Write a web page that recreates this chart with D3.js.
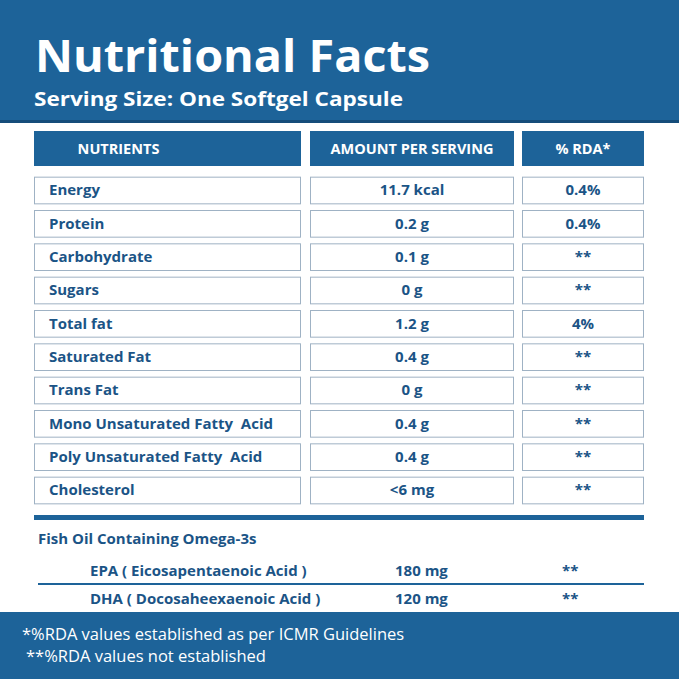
<!DOCTYPE html>
<html><head><meta charset="utf-8">
<script src="https://cdn.jsdelivr.net/npm/d3@7"></script>
<style>body{margin:0;background:#fff}svg{display:block;font-family:"Open Sans",Lato,sans-serif}text{white-space:pre}</style>
</head><body><div id="chart"></div>
<script>
// table content
const headers = ["NUTRIENTS", "AMOUNT PER SERVING", "% RDA*"];
const nutrients = ["Energy", "Protein", "Carbohydrate", "Sugars", "Total fat", "Saturated Fat", "Trans Fat", "Mono Unsaturated Fatty  Acid", "Poly Unsaturated Fatty  Acid", "Cholesterol"];
const amounts = ["11.7 kcal", "0.2 g", "0.1 g", "0 g", "1.2 g", "0.4 g", "0 g", "0.4 g", "0.4 g", "<6 mg"];
const rda = ["0.4%", "0.4%", "**", "**", "4%", "**", "**", "**", "**", "**"];
const omegaNames = ["EPA ( Eicosapentaenoic Acid )", "DHA ( Docosaheexaenoic Acid )"];
const omegaAmounts = ["180 mg", "120 mg"];
const omegaRda = ["**", "**"];

const W = 679, H = 679;
const blue = "#1d6399", ink = "#1b5486", border = "#9fb2c4";
const svg = d3.select("#chart").append("svg").attr("width", W).attr("height", H);

// header band
svg.append("rect").attr("width", W).attr("height", 122).attr("fill", blue);
svg.append("rect").attr("y", 120).attr("width", W).attr("height", 3).attr("fill", "#154d7a");
svg.append("text").attr("x", 35).attr("y", 72).attr("fill", "#fff")
  .attr("font-size", 44).attr("font-weight", 700).attr("textLength", 395).attr("lengthAdjust", "spacingAndGlyphs")
  .text("Nutritional Facts");
svg.append("text").attr("x", 34).attr("y", 106).attr("fill", "#fff")
  .attr("font-size", 19).attr("font-weight", 700).attr("textLength", 369).attr("lengthAdjust", "spacingAndGlyphs")
  .text("Serving Size: One Softgel Capsule");

// columns
const cols = [{x: 34, w: 267, anchor: "start", pad: 15}, {x: 310, w: 204, anchor: "middle"}, {x: 522, w: 122, anchor: "middle"}];
function tx(c) { return c.anchor === "start" ? c.x + c.pad : c.x + c.w / 2; }

// column header cells
cols.forEach((c, i) => {
  svg.append("rect").attr("x", c.x).attr("y", 131).attr("width", c.w).attr("height", 35).attr("fill", blue);
  svg.append("text").attr("x", i === 0 ? c.x + c.w / 2 - 49 : c.x + c.w / 2).attr("y", 154)
    .attr("text-anchor", "middle").attr("fill", "#fff").attr("font-size", 14.5).attr("font-weight", 700)
    .text(headers[i]);
});

const y = d3.scaleBand().domain(d3.range(nutrients.length)).range([175, 505]).paddingInner(0.2).paddingOuter(0.05);
const rows = svg.selectAll("g.row").data(nutrients.map((n, i) => [n, amounts[i], rda[i]]))
  .enter().append("g").attr("class", "row").attr("transform", (d, i) => `translate(0,${y(i)})`);
cols.forEach((c, j) => {
  rows.append("rect").attr("x", c.x + 0.5).attr("y", 0.5).attr("width", c.w - 1).attr("height", y.bandwidth())
    .attr("fill", "#fff").attr("stroke", border).attr("stroke-width", 1);
  rows.append("text").attr("x", tx(c)).attr("y", y.bandwidth() / 2 + 5.5)
    .attr("text-anchor", c.anchor).attr("fill", ink).attr("font-size", 15).attr("font-weight", 700)
    .text(d => d[j]);
});

// omega section
svg.append("rect").attr("x", 34).attr("y", 515).attr("width", 610).attr("height", 5).attr("fill", blue);
svg.append("text").attr("x", 38).attr("y", 544).attr("fill", ink).attr("font-size", 15).attr("font-weight", 700)
  .text("Fish Oil Containing Omega-3s");
const oy = d3.scalePoint().domain(d3.range(omegaNames.length)).range([576, 604]);
omegaNames.forEach((n, i) => {
  svg.append("text").attr("x", 90).attr("y", oy(i)).attr("fill", ink).attr("font-size", 15).attr("font-weight", 700).text(n);
  svg.append("text").attr("x", 395).attr("y", oy(i)).attr("fill", ink).attr("font-size", 15).attr("font-weight", 700).text(omegaAmounts[i]);
  svg.append("text").attr("x", 562).attr("y", oy(i)).attr("fill", ink).attr("font-size", 15).attr("font-weight", 700).text(omegaRda[i]);
});
svg.append("rect").attr("x", 38).attr("y", 583).attr("width", 606).attr("height", 2).attr("fill", blue);

// footer band
svg.append("rect").attr("y", 612).attr("width", W).attr("height", H - 612).attr("fill", blue);
svg.append("text").attr("x", 22).attr("y", 640).attr("fill", "#fff").attr("font-size", 16.5).text("*%RDA values established as per ICMR Guidelines");
svg.append("text").attr("x", 26).attr("y", 662).attr("fill", "#fff").attr("font-size", 16.5).text("**%RDA values not established");
</script></body></html>
